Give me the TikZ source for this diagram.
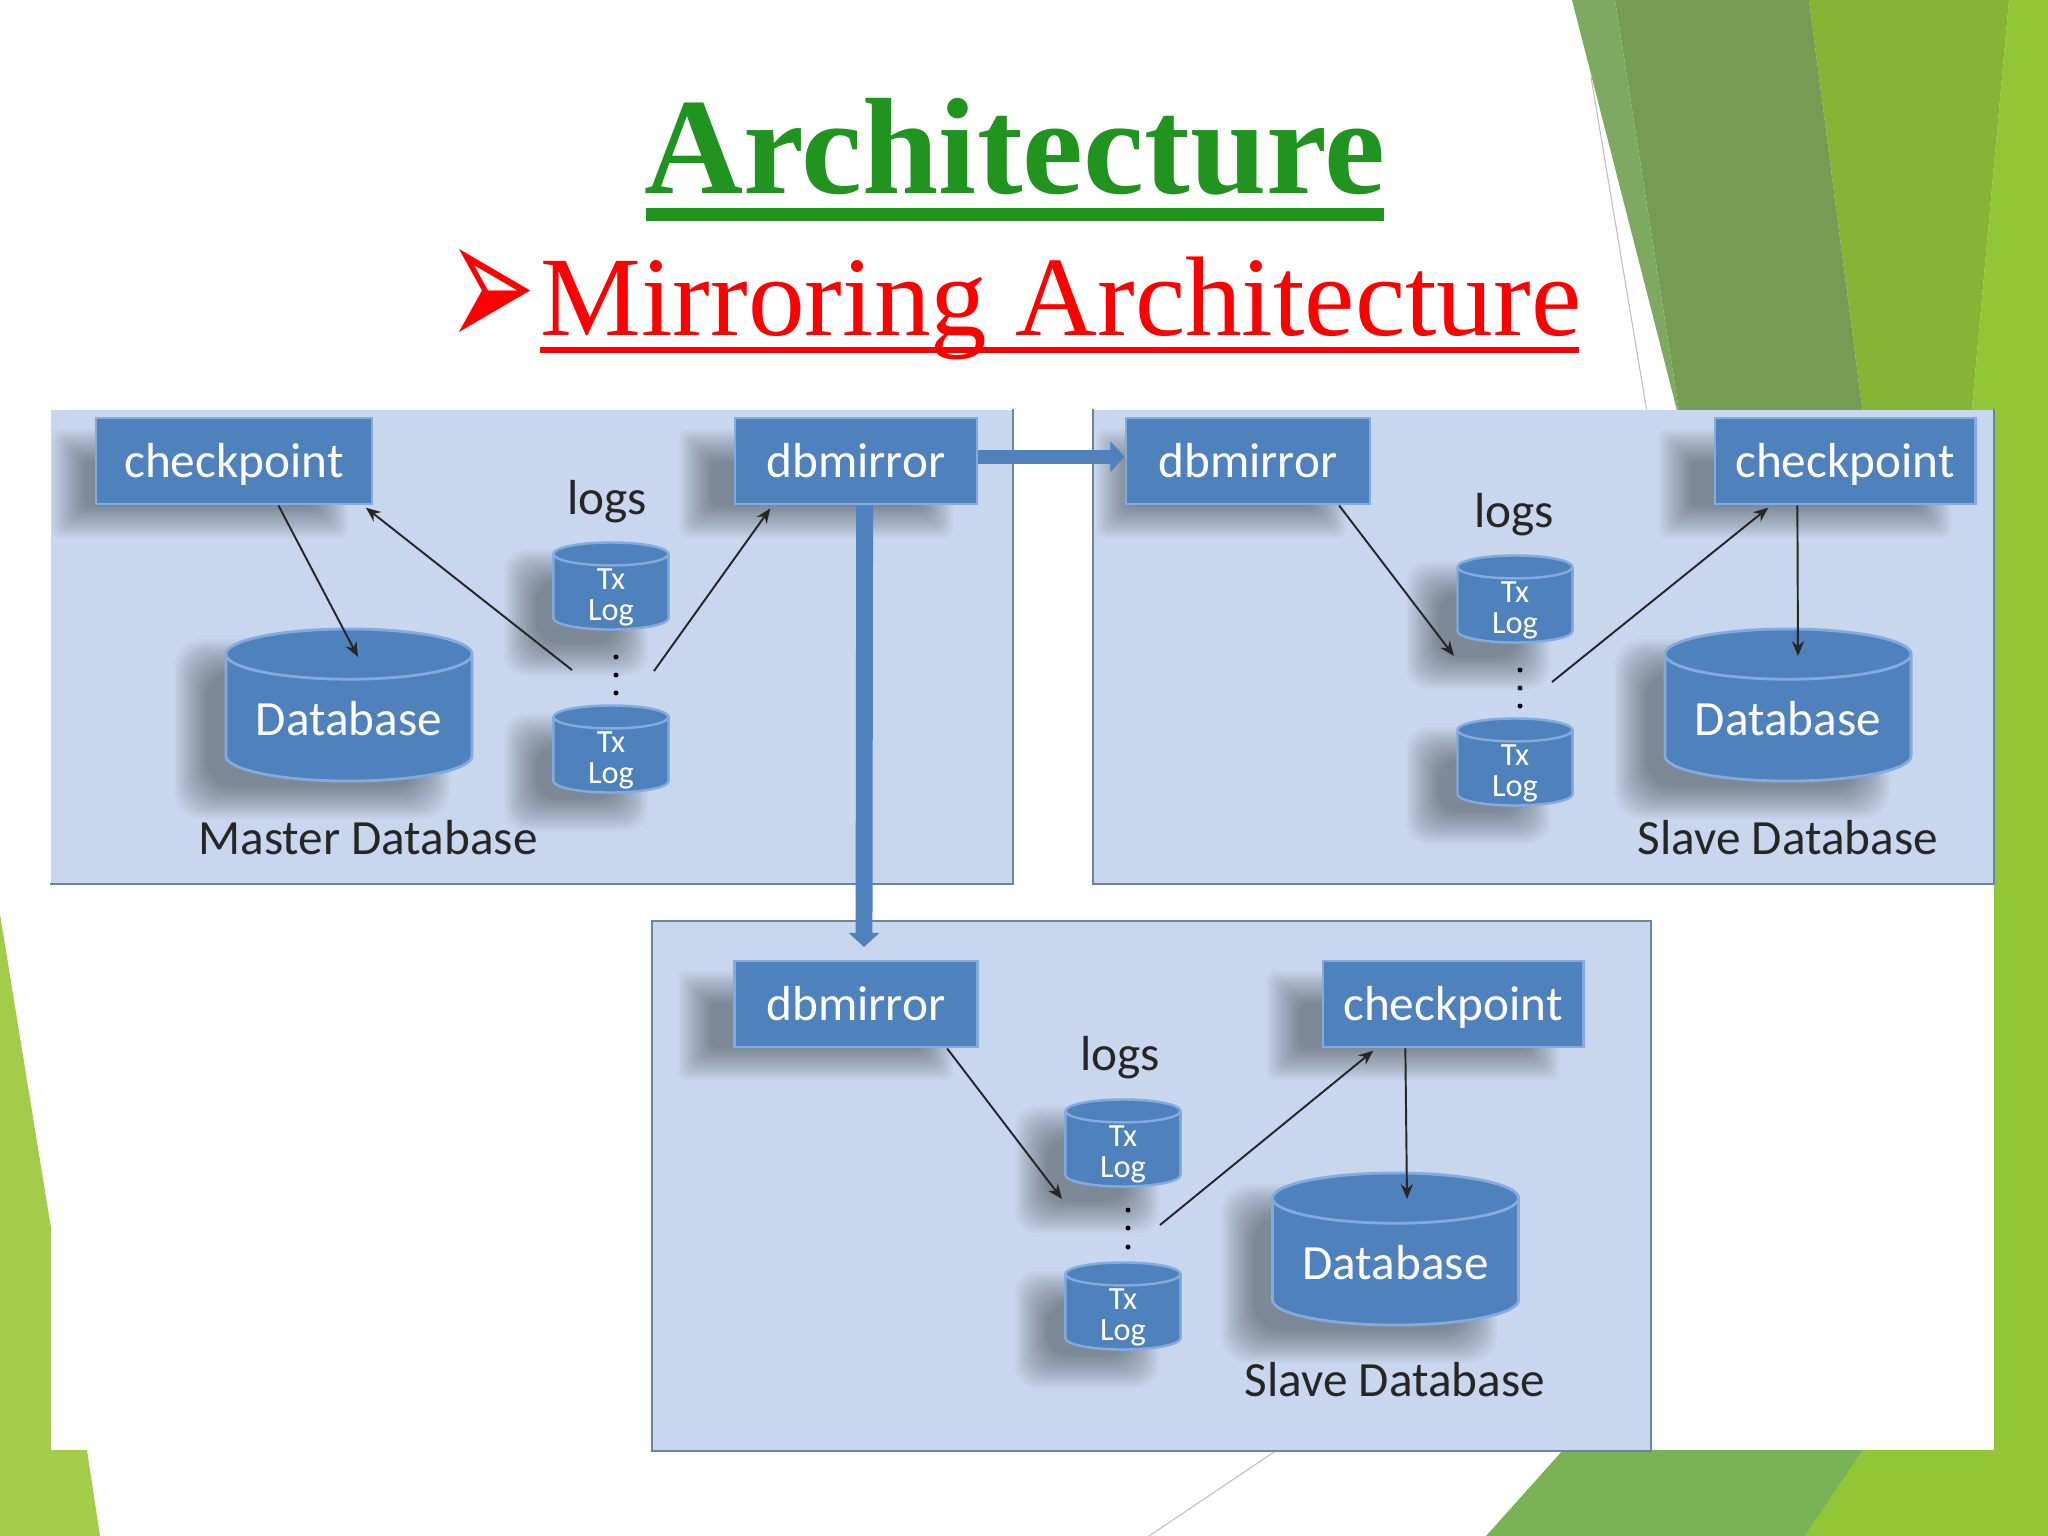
\documentclass[tikz,border=0pt]{standalone}
\usepackage{fontspec}
\setmainfont{Carlito}
\newfontfamily\titlefont{Liberation Serif}
\newfontfamily\bulletfont{DejaVu Sans}
\usetikzlibrary{arrows.meta,shapes.geometric}
\definecolor{panelblue}{HTML}{C9D7EE}
\definecolor{paneledge}{HTML}{6F84A3}
\definecolor{boxblue}{HTML}{4F81BD}
\definecolor{boxedge}{HTML}{84AAE0}
\definecolor{titlegreen}{HTML}{219420}
\definecolor{sagegreen}{HTML}{769C54}
\definecolor{sagelight}{HTML}{7FA861}
\definecolor{leafgreen}{HTML}{86B535}
\definecolor{limegreen}{HTML}{93C636}
\definecolor{leftgreen}{HTML}{A2CC49}
\definecolor{mossgreen}{HTML}{7AB354}
\definecolor{thingray}{HTML}{BDBDBD}
\tikzset{
  panelbox/.style={fill=panelblue, inner sep=0pt},
  paneline/.style={draw=paneledge, line width=0.6pt},
  bluebox/.style={fill=boxblue, draw=boxedge, line width=0.8pt, text=white, inner sep=0pt,
    minimum height=0.86cm, text height=12pt, text depth=2.5pt, font=\fontsize{14}{16}\selectfont},
  bigdb/.style={cylinder, shape border rotate=90, aspect=0.27, anchor=shape center, fill=boxblue, draw=boxedge,
    line width=0.8pt, text=white, inner sep=0pt, minimum width=2.46cm, minimum height=1.52cm,
    font=\fontsize{14}{16}\selectfont},
  txlog/.style={cylinder, shape border rotate=90, aspect=0.5, anchor=shape center, fill=boxblue, draw=boxedge,
    line width=0.7pt, text=white, inner sep=0pt, minimum width=1.15cm, minimum height=0.87cm,
    font=\fontsize{9.2}{8.9}\selectfont},
  plainlabel/.style={text=black!85, inner sep=0pt, font=\fontsize{14}{16}\selectfont},
  thinarrow/.style={-{Stealth[length=4.2pt,width=3.4pt]}, line width=0.55pt, black!85},
  bigarrow/.style={-{Triangle[length=4pt,width=8.5pt]}, line width=4pt, boxblue}
}
\newcommand{\txtext}{\raisebox{-8.1pt}[0pt][0pt]{\shortstack{Tx\\Log}}}
\newcommand{\softshadow}[5]{%
  \foreach \k in {0,2,...,32}
    \fill[black, opacity=0.025, rounded corners=#5]
      ({#1-16+\k},{#2-16+\k}) rectangle ({#3+16-\k},{#4+16-\k});
}
\begin{document}
\begin{tikzpicture}[x=0.01cm, y=-0.01cm]
  \useasboundingbox (0,0) rectangle (2048,1536);

  % slide background
  \fill[limegreen] (2009,0) -- (2048,0) -- (2048,1536) -- (1805,1536) -- (1863,1450) -- (1970,430) -- cycle;
  \fill[leafgreen] (1809,0) -- (2009,0) -- (1970,430) -- (1865,430) -- cycle;
  \fill[sagegreen] (1615,0) -- (1809,0) -- (1865,430) -- (1682,430) -- cycle;
  \fill[sagelight] (1572,0) -- (1615,0) -- (1682,430) -- cycle;
  \draw[thingray, line width=0.3pt] (1591,77) -- (1650,430);
  \fill[leftgreen] (0,914) -- (51,1228) -- (51,1450) -- (87,1450) -- (100,1536) -- (0,1536) -- cycle;
  \fill[mossgreen] (1563,1450) -- (1863,1450) -- (1805,1536) -- (1486,1536) -- cycle;
  \draw[thingray, line width=0.3pt] (1277,1450) -- (1149,1536);
  \fill[white] (51,410) rectangle (1994,1450);

  \node[anchor=base, text=titlegreen, inner sep=0pt, font=\titlefont\bfseries\fontsize{39}{41}\selectfont] (title) at (1015,193) {Architecture};
  \fill[titlegreen] (646,208) rectangle (1384,221);
  \node[anchor=base west, text=red, inner sep=0pt, font=\titlefont\fontsize{32.2}{34}\selectfont] (subtitle) at (540,335) {Mirroring Architecture};
  \fill[red] (540,347) rectangle (1579,353);
  \node[text=red, inner sep=0pt, font=\bulletfont\fontsize{30}{32}\selectfont] (bullet) at (492,300) {\scalebox{1}[1.8]{➢}};

  % panels
  \node[panelbox, minimum width=9.61cm, minimum height=4.73cm] (panelA) at (531.5,646.5) {};
  \node[panelbox, minimum width=8.99cm, minimum height=4.73cm] (panelB) at (1543.5,646.5) {};
  \node[panelbox, minimum width=9.97cm, minimum height=5.28cm] (panelC) at (1151.5,1186) {};
  \draw[paneline] (panelA.north east) -- (panelA.south east) -- (panelA.south west);
  \draw[paneline] (panelB.north west) -- (panelB.south west) -- (panelB.south east) -- (panelB.north east);
  \draw[paneline] (panelC.south west) rectangle (panelC.north east);

  % shadows
  \softshadow{68}{445}{332}{522}{2pt}
  \softshadow{695}{445}{937}{522}{2pt}
  \softshadow{190}{655}{434}{803}{8pt}
  \softshadow{520}{565}{632}{660}{6pt}
  \softshadow{520}{730}{632}{815}{6pt}
  \softshadow{1112}{445}{1330}{522}{2pt}
  \softshadow{1675}{445}{1935}{522}{2pt}
  \softshadow{1630}{655}{1874}{803}{8pt}
  \softshadow{1422}{578}{1534}{673}{6pt}
  \softshadow{1422}{743}{1534}{828}{6pt}
  \softshadow{694}{987}{937}{1064}{2pt}
  \softshadow{1283}{987}{1543}{1064}{2pt}
  \softshadow{1237}{1200}{1481}{1347}{8pt}
  \softshadow{1031}{1122}{1143}{1217}{6pt}
  \softshadow{1031}{1287}{1143}{1372}{6pt}

  % master
  \node[bluebox, minimum width=2.76cm] (chkA) at (234,461) {checkpoint};
  \node[bluebox, minimum width=2.42cm] (dbmA) at (856,461) {dbmirror};
  \node[plainlabel] (logsA) at (607,502) {logs};
  \node[txlog] (txA) at (611,586) {\txtext};
  \node[txlog] (tyA) at (611,749) {\txtext};
  \node[bigdb] (dbA) at (349,705) {Database};
  \node[plainlabel] (nameA) at (368,838) {Master Database};
  \foreach \dy in {657,675,693}
    \fill[black] (616,\dy) circle (2.5);
  \coordinate (dotsAl) at (572,670);
  \coordinate (dotsAr) at (654,671);
  \coordinate (dbAin) at (358,657);
  \draw[thinarrow] (chkA.-45) -- (dbAin);
  \draw[thinarrow, shorten >=1pt] (dotsAl) -- (chkA.-19.6);
  \draw[thinarrow, shorten >=1pt] (dotsAr) -- (dbmA.-152.9);

  % first slave
  \node[bluebox, minimum width=2.44cm] (dbmB) at (1248,461) {dbmirror};
  \node[bluebox, minimum width=2.6cm] (chkB) at (1845,461) {checkpoint};
  \node[plainlabel] (logsB) at (1514,515) {logs};
  \node[txlog] (txB) at (1515,599) {\txtext};
  \node[txlog] (tyB) at (1515,762) {\txtext};
  \node[bigdb] (dbB) at (1788,705) {Database};
  \node[plainlabel] (nameB) at (1788,838) {Slave Database};
  \foreach \dy in {670,688,706}
    \fill[black] (1520,\dy) circle (2.5);
  \coordinate (dotsBl) at (1454,656);
  \coordinate (dotsBr) at (1552,682);
  \coordinate (dbBin) at (1798,656);
  \draw[thinarrow] (dbmB.-26) -- (dotsBl);
  \draw[thinarrow, shorten >=1pt] (dotsBr) -- (chkB.-149.8);
  \draw[thinarrow] (chkB.-137.6) -- (dbBin);

  % second slave
  \node[bluebox, minimum width=2.43cm] (dbmC) at (856,1004) {dbmirror};
  \node[bluebox, minimum width=2.6cm] (chkC) at (1453,1004) {checkpoint};
  \node[plainlabel] (logsC) at (1120,1058) {logs};
  \node[txlog] (txC) at (1123,1143) {\txtext};
  \node[txlog] (tyC) at (1123,1306) {\txtext};
  \node[bigdb] (dbC) at (1395.5,1249) {Database};
  \node[plainlabel] (nameC) at (1395,1380) {Slave Database};
  \foreach \dy in {1210,1228,1247}
    \fill[black] (1128,\dy) circle (2.5);
  \coordinate (dotsCl) at (1062,1199);
  \coordinate (dotsCr) at (1160,1225);
  \coordinate (dbCin) at (1407,1199);
  \draw[thinarrow] (dbmC.-26) -- (dotsCl);
  \draw[thinarrow, shorten >=1pt] (dotsCr) -- (chkC.-150.2);
  \draw[thinarrow] (chkC.-137) -- (dbCin);

  % mirror links
  \coordinate (dbmCin) at (864,947);
  \draw[bigarrow] (dbmA.2) -- (dbmB.west |- dbmA.2);
  \draw[bigarrow, line width=4.8pt] (dbmA.-79) -- (dbmCin);
\end{tikzpicture}
\end{document}
